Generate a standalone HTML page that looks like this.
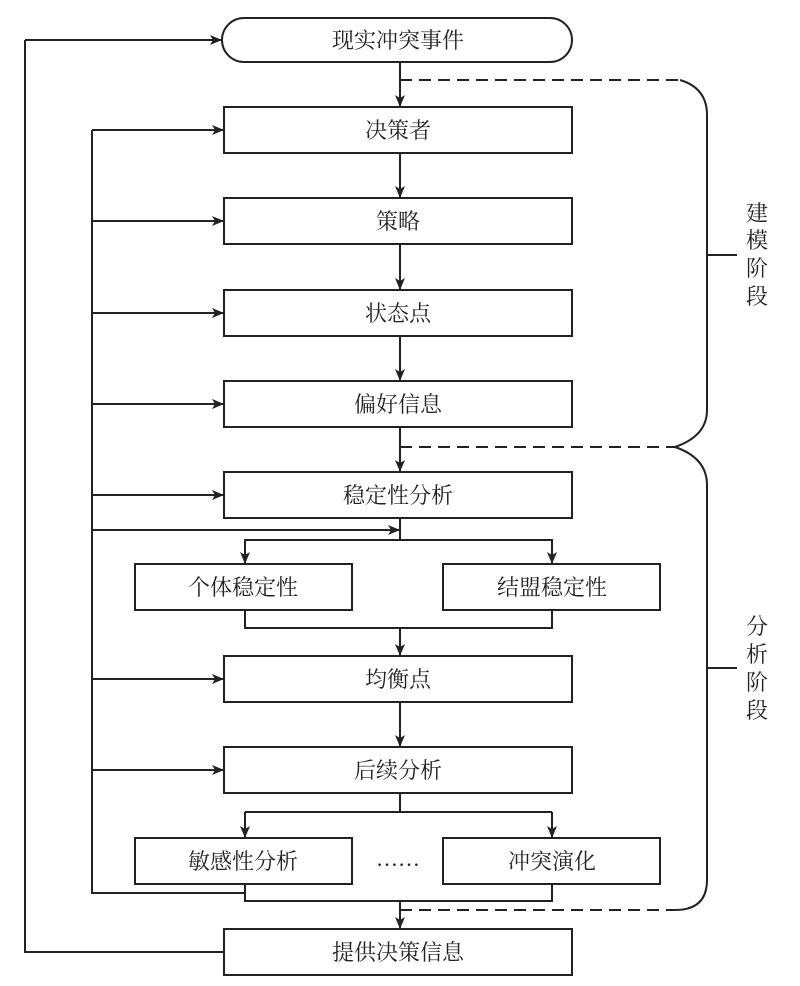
<!DOCTYPE html>
<html><head><meta charset="utf-8"><style>
html,body{margin:0;padding:0;background:#fff;}
svg{display:block;}
text{font-family:"Liberation Serif","Noto Serif CJK SC","Noto Sans CJK SC",serif;font-size:22px;fill:#222;}
</style></head><body>
<svg width="800" height="986" viewBox="0 0 800 986" xmlns="http://www.w3.org/2000/svg">
<defs>
<marker id="a" markerWidth="12" markerHeight="12" refX="11" refY="6" orient="auto" markerUnits="userSpaceOnUse">
<path d="M0,1 L12,6 L0,11 L3,6 Z" fill="#222"/></marker>
</defs>
<g stroke="#222" stroke-width="2" fill="none">
<rect x="222" y="18" width="350" height="44" rx="22" fill="#fff"/>
<rect x="224" y="107" width="348" height="46"/>
<rect x="224" y="198" width="348" height="46"/>
<rect x="224" y="290" width="348" height="46"/>
<rect x="224" y="381" width="348" height="46"/>
<rect x="224" y="472" width="348" height="46"/>
<rect x="135" y="564" width="217" height="46"/>
<rect x="443" y="564" width="217" height="46"/>
<rect x="224" y="656" width="348" height="46"/>
<rect x="224" y="747" width="348" height="46"/>
<rect x="135" y="838" width="217" height="46"/>
<rect x="443" y="838" width="217" height="46"/>
<rect x="224" y="929" width="348" height="46"/>

<line x1="400" y1="62" x2="400" y2="106" marker-end="url(#a)"/>
<line x1="400" y1="153" x2="400" y2="197" marker-end="url(#a)"/>
<line x1="400" y1="244" x2="400" y2="289" marker-end="url(#a)"/>
<line x1="400" y1="336" x2="400" y2="380" marker-end="url(#a)"/>
<line x1="400" y1="427" x2="400" y2="471" marker-end="url(#a)"/>
<polyline points="400,518 400,540"/>
<polyline points="245,563 245,540 552,540 552,563"/>
<line x1="245" y1="541" x2="245" y2="563" marker-end="url(#a)"/>
<line x1="552" y1="541" x2="552" y2="563" marker-end="url(#a)"/>
<polyline points="245,610 245,628 552,628 552,610"/>
<line x1="400" y1="628" x2="400" y2="655" marker-end="url(#a)"/>
<line x1="400" y1="702" x2="400" y2="746" marker-end="url(#a)"/>
<polyline points="400,793 400,812"/>
<polyline points="245,812 552,812"/>
<line x1="245" y1="812" x2="245" y2="837" marker-end="url(#a)"/>
<line x1="552" y1="812" x2="552" y2="837" marker-end="url(#a)"/>
<polyline points="245,884 245,901 552,901 552,884"/>
<line x1="400" y1="901" x2="400" y2="928" marker-end="url(#a)"/>

<polyline points="92,130 92,893 245,893"/>
<line x1="92" y1="130" x2="223" y2="130" marker-end="url(#a)"/>
<line x1="92" y1="221" x2="223" y2="221" marker-end="url(#a)"/>
<line x1="92" y1="313" x2="223" y2="313" marker-end="url(#a)"/>
<line x1="92" y1="404" x2="223" y2="404" marker-end="url(#a)"/>
<line x1="92" y1="495" x2="223" y2="495" marker-end="url(#a)"/>
<line x1="92" y1="530" x2="399" y2="530" marker-end="url(#a)"/>
<line x1="92" y1="679" x2="223" y2="679" marker-end="url(#a)"/>
<line x1="92" y1="770" x2="223" y2="770" marker-end="url(#a)"/>

<polyline points="224,952 25,952 25,40"/>
<line x1="25" y1="40" x2="221" y2="40" marker-end="url(#a)"/>

<line x1="400" y1="80" x2="680" y2="80" stroke-dasharray="12,7"/>
<line x1="400" y1="447" x2="675" y2="447" stroke-dasharray="12,7"/>
<line x1="400" y1="910" x2="675" y2="910" stroke-dasharray="12,7"/>
<path d="M680,80 Q707,88 707,115 L707,410 Q707,436 675,447 Q707,458 707,485 L707,880 Q707,910 675,910"/>
<line x1="707" y1="255" x2="737" y2="255"/>
<line x1="707" y1="668" x2="737" y2="668"/>
</g>
<g text-anchor="middle">
<text x="398" y="48">现实冲突事件</text>
<text x="398" y="138">决策者</text>
<text x="398" y="229">策略</text>
<text x="398" y="321">状态点</text>
<text x="398" y="412">偏好信息</text>
<text x="398" y="503">稳定性分析</text>
<text x="243" y="595">个体稳定性</text>
<text x="552" y="595">结盟稳定性</text>
<text x="398" y="687">均衡点</text>
<text x="398" y="778">后续分析</text>
<text x="243" y="869">敏感性分析</text>
<text x="398" y="866">……</text>
<text x="552" y="869">冲突演化</text>
<text x="398" y="960">提供决策信息</text>
<text x="757" y="221">建</text>
<text x="757" y="248">模</text>
<text x="757" y="276">阶</text>
<text x="757" y="304">段</text>
<text x="757" y="634">分</text>
<text x="757" y="662">析</text>
<text x="757" y="690">阶</text>
<text x="757" y="718">段</text>
</g>
</svg>
</body></html>
